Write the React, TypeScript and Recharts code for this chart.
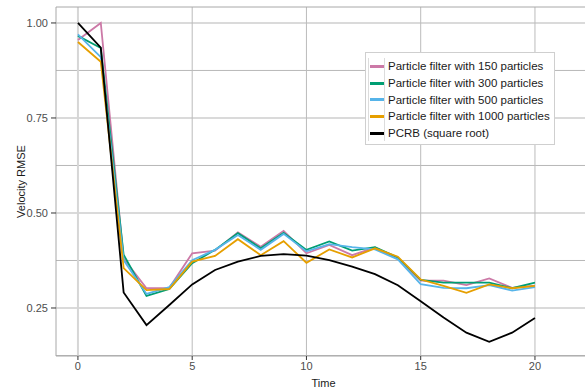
import { LineChart, Line, XAxis, YAxis, ReferenceLine } from 'recharts'

const times = [0, 1, 2, 3, 4, 5, 6, 7, 8, 9, 10, 11, 12, 13, 14, 15, 16, 17, 18, 19, 20]
const pf150 = [0.955, 1.0, 0.38, 0.302, 0.303, 0.394, 0.401, 0.449, 0.411, 0.453, 0.394, 0.416, 0.389, 0.409, 0.38, 0.322, 0.322, 0.31, 0.328, 0.303, 0.309]
const pf300 = [0.966, 0.934, 0.39, 0.282, 0.3, 0.368, 0.403, 0.447, 0.407, 0.448, 0.403, 0.425, 0.401, 0.41, 0.383, 0.324, 0.317, 0.317, 0.317, 0.302, 0.317]
const pf500 = [0.97, 0.91, 0.376, 0.287, 0.305, 0.376, 0.403, 0.442, 0.403, 0.445, 0.399, 0.418, 0.41, 0.404, 0.378, 0.313, 0.303, 0.302, 0.31, 0.296, 0.305]
const pf1000 = [0.95, 0.898, 0.355, 0.297, 0.3, 0.372, 0.387, 0.431, 0.389, 0.426, 0.369, 0.404, 0.383, 0.407, 0.385, 0.325, 0.308, 0.29, 0.312, 0.302, 0.308]
const pcrb = [1.0, 0.935, 0.291, 0.205, 0.258, 0.312, 0.35, 0.372, 0.387, 0.392, 0.388, 0.376, 0.359, 0.339, 0.31, 0.268, 0.225, 0.185, 0.161, 0.185, 0.224]

const seriesNames = [
  'Particle filter with 150 particles',
  'Particle filter with 300 particles',
  'Particle filter with 500 particles',
  'Particle filter with 1000 particles',
  'PCRB (square root)',
]
const seriesColors = ['#CC79A7', '#009E73', '#56B4E9', '#E69F00', '#000000']
const seriesValues = [pf150, pf300, pf500, pf1000, pcrb]

const xTicks = [0, 5, 10, 15, 20]
const yTicks = [0.25, 0.5, 0.75, 1.0]
const yMinor = [0.125, 0.375, 0.625, 0.875]

const xDomain = [-0.96, 22.19]
const yDomain = [0.1237, 1.042]

const rows = times.map((t, i) => {
  const row: Record<string, number> = { t }
  seriesValues.forEach((s, k) => {
    row['s' + k] = s[i]
  })
  return row
})

const font = 'Liberation Sans, Arial, Helvetica, sans-serif'

function LegendBox() {
  return (
    <div
      style={{
        position: 'absolute',
        left: 365,
        top: 52,
        border: '1px solid #cfcfcf',
        background: '#fff',
        padding: '5px 4px 3px 2px',
        fontFamily: font,
        fontSize: 11.5,
        color: '#1a1a1a',
      }}
    >
      {seriesNames.map((name, i) => (
        <div key={name} style={{ display: 'flex', alignItems: 'center', height: 16.7 }}>
          <div
            style={{
              width: 17,
              height: 16.7,
              boxSizing: 'border-box',
              borderLeft: '1px solid #dcdcdc',
              borderRight: '1px solid #dcdcdc',
              display: 'flex',
              alignItems: 'center',
              justifyContent: 'center',
              marginRight: 3,
            }}
          >
            <div style={{ width: 14, height: 3, background: seriesColors[i] }} />
          </div>
          <span style={{ whiteSpace: 'nowrap' }}>{name}</span>
        </div>
      ))}
    </div>
  )
}

export default function App() {
  return (
    <div style={{ position: 'absolute', left: 0, top: 0, width: 585, height: 389, background: '#fff' }}>
      <LineChart width={585} height={389} data={rows} margin={{ top: 7, right: 0, left: 0, bottom: 0 }}>
        {yTicks.map((v) => (
          <ReferenceLine key={'ym' + v} y={v} stroke="#dadada" strokeWidth={2} />
        ))}
        {yMinor.map((v) => (
          <ReferenceLine key={'yn' + v} y={v} stroke="#b8b8b8" strokeWidth={1} />
        ))}
        {xTicks.map((v) => (
          <ReferenceLine key={'xm' + v} x={v} stroke={v === 0 ? '#d6d6d6' : '#bcbcbc'} strokeWidth={v === 0 ? 2 : 1} />
        ))}
        <ReferenceLine y={yDomain[1]} stroke="#a8a8a8" strokeWidth={1} ifOverflow="visible" />
        <XAxis
          dataKey="t"
          type="number"
          domain={xDomain}
          allowDataOverflow
          ticks={xTicks}
          height={33}
          tickSize={4}
          tickMargin={2}
          axisLine={{ stroke: '#a8a8a8' }}
          tickLine={{ stroke: '#333' }}
          tick={{ fontSize: 11, fill: '#4d4d4d', fontFamily: font }}
          label={{ value: 'Time', position: 'insideBottom', offset: 2, dx: 3, fontSize: 11, fill: '#1a1a1a', fontFamily: font }}
        />
        <YAxis
          type="number"
          domain={yDomain}
          allowDataOverflow
          ticks={yTicks}
          width={56}
          tickSize={5}
          tickMargin={3}
          tickFormatter={(v: number) => v.toFixed(2)}
          axisLine={{ stroke: '#a8a8a8' }}
          tickLine={{ stroke: '#333' }}
          tick={{ fontSize: 11, fill: '#4d4d4d', fontFamily: font }}
          label={{
            value: 'Velocity RMSE',
            angle: -90,
            position: 'insideLeft',
            offset: 21,
            style: { textAnchor: 'middle' },
            fontSize: 11,
            fill: '#1a1a1a',
            fontFamily: font,
          }}
        />
        {seriesNames.map((name, k) => (
          <Line
            key={name}
            dataKey={'s' + k}
            name={name}
            stroke={seriesColors[k]}
            strokeWidth={1.8}
            dot={false}
            isAnimationActive={false}
          />
        ))}
      </LineChart>
      <LegendBox />
    </div>
  )
}
